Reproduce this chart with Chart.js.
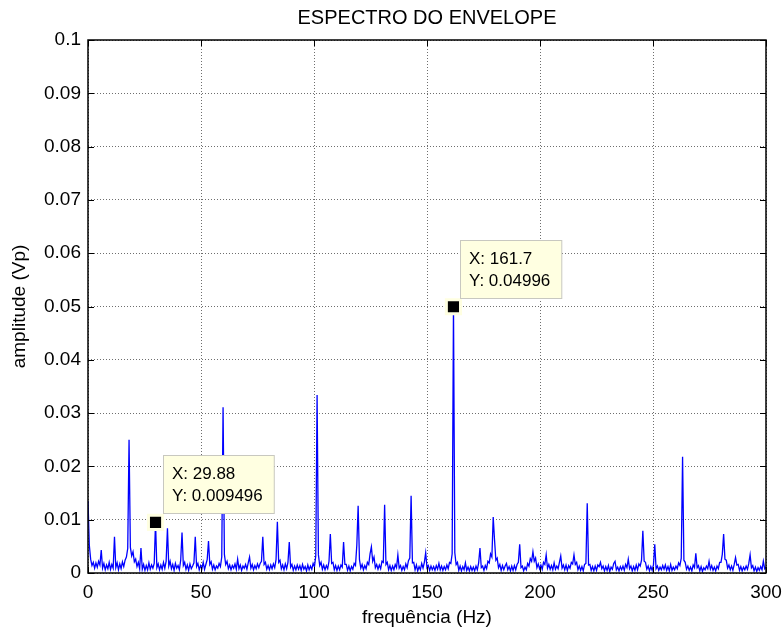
<!DOCTYPE html>
<html>
<head>
<meta charset="utf-8">
<title>Espectro do envelope</title>
<script src="https://cdn.jsdelivr.net/npm/chart.js@4.4.1/dist/chart.umd.min.js"></script>
<style>
  html, body { margin: 0; padding: 0; background: #ffffff; }
  #wrap { width: 784px; height: 632px; }
</style>
</head>
<body>
<div id="wrap"><canvas id="c" width="784" height="632"></canvas></div>
<script>
const chartTitle = 'ESPECTRO DO ENVELOPE';
const xAxisLabel = 'frequência (Hz)';
const yAxisLabel = 'amplitude (Vp)';

// Spectral line spacing (Hz)
const binWidthHz = 1200 / 2048;

// Envelope spectrum amplitude per bin, in mVp (bins 0 .. 512)
const amplitudeMilliVp = [
  13.5, 5.2, 2.6, 1.4, 2.0, 0.9, 1.9, 1.1, 2.2, 1.5,
  4.3, 0.9, 1.8, 0.6, 1.5, 0.8, 2.0, 0.7, 1.6, 0.9,
  6.8, 1.0, 1.9, 0.6, 1.7, 0.8, 2.1, 1.2, 2.4, 3.0,
  4.6, 25.0, 4.8, 3.2, 4.0, 2.1, 2.6, 1.2, 2.0, 0.8,
  4.7, 0.7, 1.6, 0.5, 1.4, 0.6, 1.9, 0.7, 1.5, 0.9,
  1.8, 9.496, 1.0, 1.7, 0.6, 1.5, 0.7, 2.0, 0.9, 2.2,
  8.4, 1.3, 2.2, 0.8, 1.6, 0.5, 1.8, 0.9, 1.4, 0.6,
  2.4, 7.6, 1.4, 2.0, 0.7, 1.5, 0.5, 1.7, 0.8, 1.3,
  1.9, 6.8, 1.2, 1.8, 0.6, 1.4, 0.8, 2.0, 0.7, 1.6,
  2.5, 6.0, 1.6, 2.1, 0.7, 1.5, 0.6, 1.3, 0.9, 1.8,
  1.2, 3.0, 31.1, 3.5, 1.6, 2.2, 0.8, 1.5, 0.6, 1.4,
  0.9, 1.7, 0.7, 2.6, 0.8, 1.5, 0.5, 1.3, 0.9, 1.6,
  0.7, 1.9, 3.0, 0.9, 1.6, 0.6, 1.4, 0.8, 1.7, 1.0,
  1.8, 2.2, 6.8, 1.6, 2.0, 0.7, 1.4, 0.6, 1.5, 0.8,
  1.7, 1.0, 2.5, 9.6, 2.0, 2.4, 0.8, 1.5, 0.6, 1.7,
  0.8, 2.0, 5.8, 1.1, 1.6, 0.5, 1.3, 0.6, 1.5, 0.7,
  1.4, 0.5, 1.6, 0.7, 1.2, 0.4, 1.5, 0.6, 1.3, 0.7,
  1.8, 1.2, 3.2, 33.4, 3.4, 1.4, 2.0, 0.7, 1.5, 0.6,
  1.4, 0.8, 2.2, 7.3, 1.8, 2.0, 0.6, 1.4, 0.5, 1.3,
  0.6, 1.5, 1.1, 5.8, 1.6, 1.6, 0.5, 1.3, 0.4, 1.2,
  0.7, 1.8, 1.4, 5.2, 12.6, 2.5, 0.9, 1.6, 0.6, 1.4,
  0.8, 2.0, 1.6, 3.6, 4.9, 2.2, 3.0, 1.0, 1.6, 0.7,
  1.5, 0.8, 2.2, 2.0, 12.8, 1.6, 2.0, 0.6, 1.4, 0.5,
  1.3, 0.6, 1.6, 1.0, 3.4, 0.9, 1.4, 0.5, 1.2, 0.6,
  1.7, 1.0, 2.3, 2.8, 14.5, 1.9, 2.0, 0.6, 1.5, 0.4,
  1.2, 0.6, 1.8, 0.9, 2.0, 3.8, 1.0, 1.4, 0.5, 1.3,
  0.6, 1.2, 0.5, 1.4, 0.7, 1.8, 0.6, 1.3, 0.5, 1.2,
  0.6, 1.5, 0.8, 2.0, 1.8, 3.6, 49.96, 3.8, 1.6, 2.0,
  0.5, 1.3, 0.4, 1.2, 0.6, 1.9, 0.5, 1.1, 0.4, 1.2,
  0.5, 1.1, 0.4, 1.3, 0.6, 1.9, 4.7, 1.0, 1.3, 0.5,
  1.4, 0.8, 2.2, 1.9, 3.6, 3.0, 10.5, 6.2, 2.4, 2.8,
  1.0, 1.6, 0.5, 1.4, 0.6, 1.3, 1.8, 0.6, 1.2, 0.4,
  1.3, 0.5, 1.4, 0.6, 1.6, 2.0, 5.4, 1.0, 1.3, 0.4,
  1.1, 0.6, 1.8, 1.3, 2.7, 2.2, 4.0, 2.2, 2.8, 1.0,
  1.7, 0.8, 1.5, 0.7, 2.0, 1.6, 3.4, 0.9, 1.6, 0.7,
  1.4, 0.6, 1.9, 0.7, 1.3, 0.8, 2.0, 3.2, 0.9, 1.5,
  0.6, 1.5, 0.5, 1.4, 0.9, 2.0, 1.7, 3.4, 1.6, 2.0,
  0.6, 1.3, 0.5, 1.2, 0.4, 1.6, 1.8, 13.1, 1.5, 1.6,
  0.5, 1.2, 0.4, 1.3, 0.5, 1.5, 1.2, 2.0, 0.8, 1.3,
  0.4, 1.2, 0.5, 1.4, 0.3, 1.1, 0.7, 1.8, 2.2, 0.6,
  1.1, 0.4, 1.2, 0.6, 1.3, 0.5, 1.6, 1.0, 2.6, 0.8,
  1.3, 0.4, 1.2, 0.5, 1.5, 0.6, 1.7, 1.3, 2.4, 7.9,
  2.2, 2.0, 0.7, 1.3, 0.4, 1.2, 0.5, 1.5, 5.4, 0.8,
  1.3, 0.5, 1.1, 0.6, 1.4, 0.7, 1.5, 0.5, 1.2, 0.4,
  1.6, 0.5, 1.1, 0.6, 1.3, 0.8, 1.9, 1.4, 2.8, 21.8,
  2.4, 2.0, 0.7, 1.3, 0.5, 1.1, 0.4, 1.5, 1.0, 3.7,
  1.0, 1.4, 0.4, 1.2, 0.3, 1.0, 0.6, 1.3, 0.8, 2.2,
  0.7, 1.4, 0.5, 1.1, 0.4, 1.3, 0.8, 2.0, 2.0, 3.5,
  7.3, 2.6, 2.4, 0.9, 1.5, 0.6, 1.3, 0.5, 1.6, 2.9,
  1.5, 1.6, 0.5, 1.2, 0.4, 1.1, 0.6, 1.3, 0.7, 1.8,
  3.4, 1.0, 1.4, 0.4, 1.1, 0.3, 1.0, 0.5, 1.2, 0.6,
  2.2, 0.8, 1.1
];

// Axis ticks
const xTicks = [0, 50, 100, 150, 200, 250, 300];
const yTicks = [0, 0.01, 0.02, 0.03, 0.04, 0.05, 0.06, 0.07, 0.08, 0.09, 0.1];

// Data tips (frequency in Hz, amplitude in Vp)
const tipFreqHz = [29.88, 161.7];
const tipAmplitudeVp = [0.009496, 0.04996];

const FONT = '"Liberation Sans", Arial, Helvetica, sans-serif';

const spectrumPoints = amplitudeMilliVp.map((a, k) => ({ x: k * binWidthHz, y: a / 1000 }));
const tipPoints = tipFreqHz.map((f, i) => ({ x: f, y: tipAmplitudeVp[i] }));

const decorations = {
  id: 'decorations',
  afterDatasetsDraw(chart) {
    const { ctx, chartArea: a, scales: { x, y } } = chart;
    ctx.save();

    // inward tick marks on all four sides
    ctx.strokeStyle = '#000';
    ctx.lineWidth = 1;
    ctx.beginPath();
    xTicks.forEach(v => {
      const px = Math.round(x.getPixelForValue(v)) + 0.5;
      ctx.moveTo(px, a.bottom); ctx.lineTo(px, a.bottom - 6);
      ctx.moveTo(px, a.top); ctx.lineTo(px, a.top + 6);
    });
    yTicks.forEach(v => {
      const py = Math.round(y.getPixelForValue(v)) + 0.5;
      ctx.moveTo(a.left, py); ctx.lineTo(a.left + 6, py);
      ctx.moveTo(a.right, py); ctx.lineTo(a.right - 6, py);
    });
    ctx.stroke();

    // axes box
    ctx.lineWidth = 1.5;
    ctx.strokeRect(a.left, a.top, a.right - a.left, a.bottom - a.top);

    // data tip labels
    ctx.font = '17px ' + FONT;
    ctx.textBaseline = 'middle';
    ctx.textAlign = 'left';
    tipFreqHz.forEach((f, i) => {
      const px = x.getPixelForValue(f);
      const py = y.getPixelForValue(tipAmplitudeVp[i]);
      const lines = ['X: ' + f, 'Y: ' + tipAmplitudeVp[i]];
      const w = Math.max(...lines.map(t => ctx.measureText(t).width)) + 20;
      const left = Math.round(px + 7) + 0.5;
      const top = Math.round(py - 67) + 0.5;
      ctx.fillStyle = '#ffffe1';
      ctx.fillRect(left, top, w, 58);
      ctx.strokeStyle = '#c8c8c0';
      ctx.lineWidth = 1;
      ctx.strokeRect(left, top, w, 58);
      ctx.fillStyle = '#000';
      ctx.fillText(lines[0], left + 8.5, top + 19);
      ctx.fillText(lines[1], left + 8.5, top + 41);
    });

    // title centred over the plot area
    ctx.font = '20px ' + FONT;
    ctx.textAlign = 'center';
    ctx.fillStyle = '#000';
    ctx.fillText(chartTitle, (a.left + a.right) / 2, 18);
    ctx.restore();
  }
};

new Chart(document.getElementById('c'), {
  type: 'line',
  data: {
    datasets: [
      {
        label: 'data tips',
        data: tipPoints,
        showLine: false,
        pointStyle: 'rect',
        pointRadius: 10,
        pointBackgroundColor: '#000000',
        pointBorderColor: '#ffffe1',
        pointBorderWidth: 3,
        order: 0
      },
      {
        label: 'espectro',
        data: spectrumPoints,
        borderColor: '#0000ff',
        borderWidth: 1.3,
        pointRadius: 0,
        tension: 0,
        fill: false,
        order: 1
      }
    ]
  },
  options: {
    responsive: false,
    animation: false,
    events: [],
    layout: { padding: { top: 40, right: 18, left: 0, bottom: 0 } },
    plugins: {
      legend: { display: false },
      tooltip: { enabled: false },
      title: { display: false }
    },
    scales: {
      x: {
        type: 'linear',
        min: 0,
        max: 300,
        afterBuildTicks: s => { s.ticks = xTicks.map(v => ({ value: v })); },
        afterFit: s => { s.height = 59; s.paddingLeft = 0; s.paddingRight = 0; },
        ticks: {
          color: '#000',
          padding: 8,
          maxRotation: 0,
          font: { family: FONT, size: 19 },
          callback: v => String(v)
        },
        grid: { color: '#6e6e6e', lineWidth: 1, drawTicks: false },
        border: { display: false, dash: [1, 2] },
        title: {
          display: true,
          text: xAxisLabel,
          color: '#000',
          font: { family: FONT, size: 19 },
          padding: { top: 0, bottom: 3 }
        }
      },
      y: {
        type: 'linear',
        min: 0,
        max: 0.1,
        afterBuildTicks: s => { s.ticks = yTicks.map(v => ({ value: v })); },
        afterFit: s => { s.width = 88; s.paddingTop = 0; s.paddingBottom = 0; },
        ticks: {
          color: '#000',
          padding: 7,
          font: { family: FONT, size: 19 },
          callback: v => String(v)
        },
        grid: { color: '#6e6e6e', lineWidth: 1, drawTicks: false },
        border: { display: false, dash: [1, 2] },
        title: {
          display: true,
          text: yAxisLabel,
          color: '#000',
          font: { family: FONT, size: 19 },
          padding: { top: 8.5, bottom: 0 }
        }
      }
    }
  },
  plugins: [decorations]
});
</script>
</body>
</html>
